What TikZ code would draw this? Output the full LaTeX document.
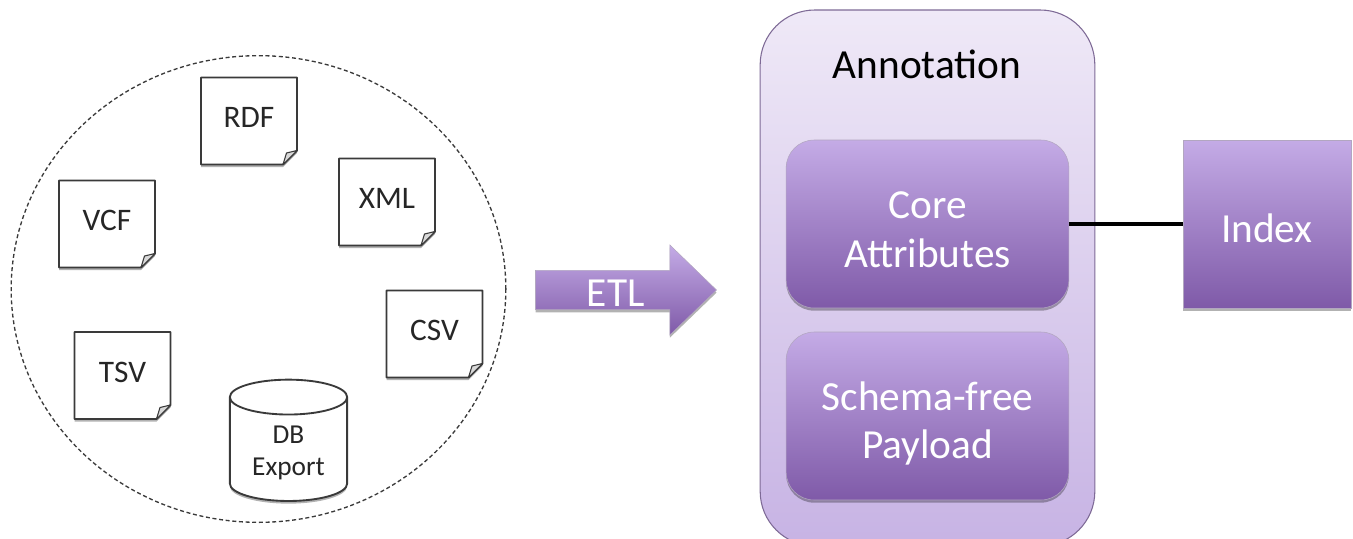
\documentclass[tikz,border=0pt]{standalone}
\usepackage{fontspec}
\setmainfont{Carlito}
\usepackage{tikz}
\usetikzlibrary{arrows.meta,shapes.geometric,shapes.arrows,shadows}

\definecolor{lilactop}{HTML}{C4ABE6}
\definecolor{lilacbottom}{HTML}{7F5AA8}
\definecolor{paletop}{HTML}{EFE9F7}
\definecolor{palebottom}{HTML}{C7B3E4}
\definecolor{lilacline}{HTML}{7E6A96}
\definecolor{inkline}{HTML}{3A3A3A}

\tikzset{
    softshadow/.style={drop shadow={shadow xshift=0pt, shadow yshift=-2pt, opacity=0.3, fill=black}},
    sourcefont/.style={font=\fontsize{23.5}{28}\selectfont, text=black!85},
    bigfont/.style={font=\fontsize{31}{36.5}\selectfont, align=center},
    sourcearea/.style={ellipse, draw=inkline, densely dashed, line width=1pt, inner sep=0pt, minimum width=371pt, minimum height=350pt},
    pageedge/.style={draw=inkline, fill=white, line width=1.4pt, line join=round, softshadow},
    pagefold/.style={draw=inkline, fill=black!15, line width=0.8pt, line join=round},
    pagehook/.style={rectangle, inner sep=0pt, minimum width=72pt, minimum height=66pt},
    dbexport/.style={cylinder, shape border rotate=90, aspect=0.48, draw=inkline, fill=white, line width=1.4pt, inner sep=0pt, minimum width=88pt, minimum height=91pt, align=center, font=\fontsize{20.5}{24}\selectfont, text=black!85, text height=43pt, softshadow},
    annotationbox/.style={rectangle, rounded corners=41pt, draw=lilacline, line width=0.8pt, top color=paletop, bottom color=palebottom, minimum width=251pt, minimum height=402pt},
    corebox/.style={rectangle, rounded corners=21pt, top color=lilactop, bottom color=lilacbottom, draw=lilacline!60, line width=0.4pt, text=white, minimum width=212pt, minimum height=126pt, inner sep=0pt, bigfont, text height=64.75pt, softshadow},
    indexbox/.style={rectangle, top color=lilactop, bottom color=lilacbottom, draw=lilacline!60, line width=0.4pt, text=white, minimum width=126pt, minimum height=126pt, inner sep=0pt, bigfont, text height=28pt, softshadow},
    etlarrow/.style={single arrow, single arrow tip angle=88, single arrow head extend=16pt, top color=lilactop, bottom color=lilacbottom, draw=lilacline!60, line width=0.4pt, text=white, minimum width=67.5pt, minimum height=135.75pt, inner sep=0pt, bigfont, text height=24.5pt, softshadow},
    corelink/.style={draw=black, line width=2.6pt},
}

\newcommand{\sourcepage}[4]{
        \node[pagehook] (#1) at (#2, #3) {};
        \path[pageedge, shift={(#1.center)}] (-48, -43.5) -- (48, -43.5) -- (48, 29.5) -- (34, 43.5) -- (-48, 43.5) -- cycle;
        \path[pagefold, shift={(#1.center)}] (34, 43.5) -- (37.5, 32) -- (48, 29.5) -- cycle;
        \node[sourcefont] (#1label) at ([yshift=2.5pt]#1.center) {#4};
}

\begin{document}
\begin{tikzpicture}[x=0.75pt, y=-0.75pt]
        \useasboundingbox (0, 0) rectangle (1353, 539);

        \node[sourcearea] (sources) at (258.5, 289) {};

        \sourcepage{rdf}{249}{121}{RDF}
        \sourcepage{vcf}{107}{224}{VCF}
        \sourcepage{xml}{387}{202}{XML}
        \sourcepage{csv}{434.5}{334}{CSV}
        \sourcepage{tsv}{122.5}{375.5}{TSV}

        \node[dbexport] (db) at (288.5, 449.5) {DB\\Export};

        \node[etlarrow] (etl) at (615.8, 290) {ETL};

        \node[annotationbox] (annotation) at (927.5, 278) {};
        \node[bigfont] (annotationtitle) at (927, 64) {Annotation};
        \node[corebox] (core) at (927.5, 224) {Core\\Attributes};
        \node[corebox, text height=69pt] (payload) at (927.5, 416) {Schema-free\\Payload};
        \node[indexbox] (index) at (1267, 224) {Index};

        \draw[corelink] (core) -- (index);
\end{tikzpicture}
\end{document}
